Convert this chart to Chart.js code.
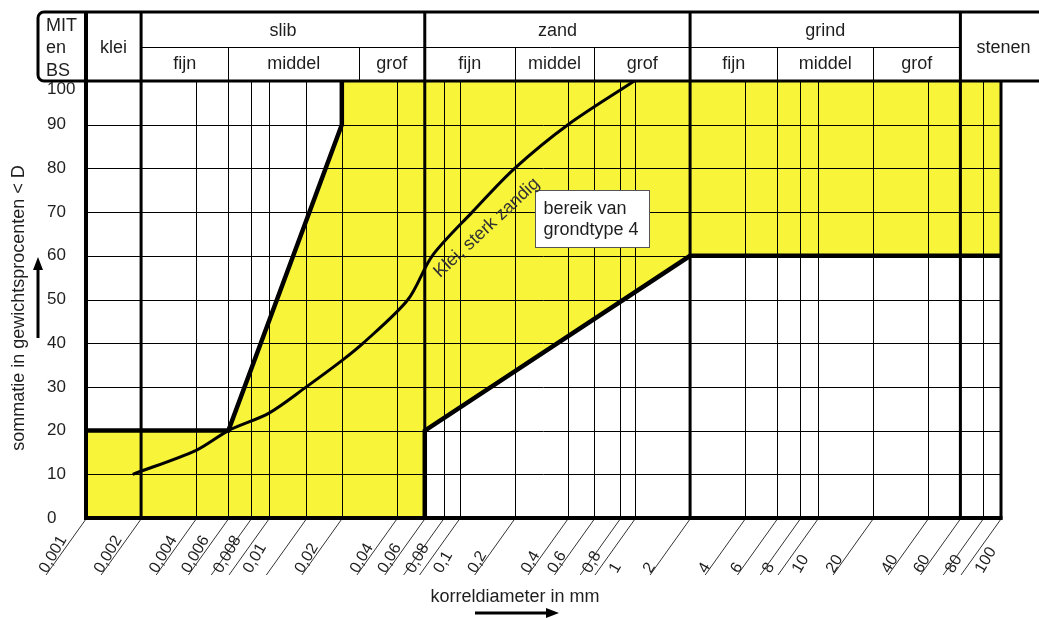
<!DOCTYPE html>
<html>
<head>
<meta charset="utf-8">
<script src="https://cdn.jsdelivr.net/npm/chart.js@4.4.1/dist/chart.umd.min.js"></script>
<style>
  html, body { margin: 0; padding: 0; background: #fff; }
</style>
</head>
<body>
<canvas id="grainChart" width="1039" height="618"></canvas>
<script>
// korreldiameter (mm): grid lines as drawn on the sheet, and the printed labels
var xGrid = [0.001, 0.002, 0.004, 0.006, 0.008, 0.01, 0.016, 0.025, 0.05, 0.071, 0.09, 0.11, 0.22, 0.43, 0.6, 0.83, 1, 2, 4, 6, 8, 10, 20, 40, 60, 80, 100];
var xLabels = ['0,001', '0,002', '0,004', '0,006', '0,008', '0,01', '', '0,02', '0,04', '0,06', '0,08', '0,1', '0,2', '0,4', '0,6', '0,8', '1', '2', '4', '6', '8', '10', '20', '40', '60', '80', '100'];
var xHeavy = [0.002, 0.071, 2, 60];
var yTicks = [0, 10, 20, 30, 40, 50, 60, 70, 80, 90, 100];

// header classes
var mainNames = ['klei', 'slib', 'zand', 'grind', 'stenen'];
var mainEdges = [0.001, 0.002, 0.071, 2, 60];
var subNames = ['fijn', 'middel', 'grof', 'fijn', 'middel', 'grof', 'fijn', 'middel', 'grof'];
var subEdges = [0.002, 0.006, 0.031, 0.071, 0.22, 0.6, 2, 6, 20, 60];

// bereik van grondtype 4 (yellow area)
var areaX = [0.001, 0.001, 0.006, 0.025, 0.025, 100, 100, 2, 0.071, 0.071];
var areaY = [0, 20, 20, 90, 100, 100, 60, 60, 20, 0];
// thick limits of that area
var upperX = [0.001, 0.006, 0.025, 0.025];
var upperY = [20, 20, 90, 100];
var lowerX = [0.071, 0.071, 2, 100];
var lowerY = [0, 20, 60, 60];

// curve "Klei, sterk zandig"
var curveX = [0.0018, 0.004, 0.006, 0.01, 0.016, 0.025, 0.0327, 0.0575, 0.078, 0.129, 0.22, 0.43, 0.99];
var curveY = [10, 15.5, 20, 24, 30, 36, 40, 50, 60, 70, 80, 90, 100];

function pts(xs, ys) {
    return xs.map(function (x, i) { return {x: x, y: ys[i]}; });
}

var ink = '#1e1e1e';
function font(size) { return size + 'px "Liberation Sans", Arial, sans-serif'; }

var sheet = {
    id: 'sheet',
    beforeDatasetsDraw: function (chart) {
        var c = chart.ctx, a = chart.chartArea;
        var X = function (v) { return chart.scales.x.getPixelForValue(v); };
        var Y = function (v) { return chart.scales.y.getPixelForValue(v); };
        var snap = function (p) { return Math.round(p) + 0.5; };
        var W = chart.width, headTop = 12, headMid = 47;
        c.save();
        c.strokeStyle = '#000';

        // thin grid
        c.lineWidth = 1;
        c.beginPath();
        yTicks.forEach(function (v) {
            if (v > 0 && v < 100) { c.moveTo(a.left, snap(Y(v))); c.lineTo(a.right, snap(Y(v))); }
        });
        xGrid.forEach(function (v) {
            var p = snap(X(v));
            c.moveTo(p, a.top); c.lineTo(p, a.bottom);
        });
        // header row divider and sub class separators
        c.moveTo(X(0.002), headMid + 0.5); c.lineTo(X(60), headMid + 0.5);
        subEdges.forEach(function (v) {
            if (mainEdges.indexOf(v) < 0) { c.moveTo(snap(X(v)), headMid); c.lineTo(snap(X(v)), a.top); }
        });
        c.stroke();

        // leader lines to the diameter labels
        c.strokeStyle = '#333';
        c.beginPath();
        xGrid.forEach(function (v) {
            var p = X(v);
            c.moveTo(p, a.bottom + 1); c.lineTo(p - 40, 575);
        });
        c.stroke();
        c.strokeStyle = '#000';

        // heavy lines
        c.lineWidth = 3;
        c.beginPath();
        xHeavy.forEach(function (v) { c.moveTo(X(v), headTop); c.lineTo(X(v), a.bottom); });
        c.moveTo(X(100), a.top); c.lineTo(X(100), a.bottom + 1.5);
        c.stroke();
        c.lineWidth = 4;
        c.beginPath();
        c.moveTo(X(0.001), headTop); c.lineTo(X(0.001), a.bottom + 2);
        c.moveTo(X(0.001) - 2, a.bottom); c.lineTo(X(100) + 1.5, a.bottom);
        c.stroke();
        // header frame with rounded left corners
        c.lineWidth = 3;
        c.beginPath();
        c.moveTo(W, headTop); c.lineTo(44, headTop);
        c.arcTo(38, headTop, 38, headTop + 6, 6);
        c.lineTo(38, a.top - 6);
        c.arcTo(38, a.top, 44, a.top, 6);
        c.lineTo(W, a.top);
        c.stroke();

        // header texts
        c.fillStyle = ink;
        c.font = font(18);
        c.textAlign = 'left';
        c.textBaseline = 'alphabetic';
        c.fillText('MIT', 46, 31);
        c.fillText('en', 46, 53);
        c.fillText('BS', 46, 76);
        c.textAlign = 'center';
        mainNames.forEach(function (name, i) {
            var l = X(mainEdges[i]);
            var r = i + 1 < mainEdges.length ? X(mainEdges[i + 1]) : l + 86;
            var hasSub = subEdges.indexOf(mainEdges[i]) >= 0 && i + 1 < mainEdges.length && subEdges.indexOf(mainEdges[i + 1]) >= 0;
            c.fillText(name, (l + r) / 2, hasSub ? 36 : 53);
        });
        subNames.forEach(function (name, i) {
            c.fillText(name, (X(subEdges[i]) + X(subEdges[i + 1])) / 2, 69);
        });

        // percentage labels
        c.font = font(17);
        c.textAlign = 'left';
        c.textBaseline = 'middle';
        yTicks.forEach(function (v) {
            c.fillText(String(v), 47, Math.max(Y(v), 89));
        });

        // diameter labels, slanted
        c.font = font(16);
        c.textBaseline = 'alphabetic';
        xGrid.forEach(function (v, i) {
            var lab = xLabels[i];
            if (!lab) return;
            var n = 0;
            if (/^(0,0*)?8/.test(lab)) n = 9;
            if (i > 0 && /^(0,0*)?10*$/.test(lab)) n = 21;
            c.save();
            c.translate(X(v) - 39 + n, 574);
            c.rotate(-60 * Math.PI / 180);
            c.fillText(lab, 0, 0);
            c.restore();
        });

        // axis titles with arrows
        c.font = font(18);
        c.textAlign = 'center';
        c.textBaseline = 'middle';
        c.fillText('korreldiameter in mm', 515, 597);
        c.save();
        c.translate(19, 308);
        c.rotate(-Math.PI / 2);
        c.fillText('sommatie in gewichtsprocenten < D', 0, 0);
        c.restore();

        c.fillStyle = '#000';
        c.lineWidth = 3;
        c.beginPath();
        c.moveTo(475, 613); c.lineTo(548, 613);
        c.moveTo(38, 338); c.lineTo(38, 268);
        c.stroke();
        c.beginPath();
        c.moveTo(546, 608); c.lineTo(559, 613); c.lineTo(546, 618); c.closePath();
        c.moveTo(33, 270); c.lineTo(38, 257); c.lineTo(43, 270); c.closePath();
        c.fill();
        c.restore();
    },
    afterDatasetsDraw: function (chart) {
        var c = chart.ctx;
        var X = function (v) { return chart.scales.x.getPixelForValue(v); };
        var Y = function (v) { return chart.scales.y.getPixelForValue(v); };
        c.save();
        // note box
        var bx = Math.round(X(0.284)) + 0.5, by = Math.round(Y(75)) + 0.5;
        c.fillStyle = '#fff';
        c.fillRect(bx, by, 114, 57);
        c.strokeStyle = '#555';
        c.lineWidth = 1;
        c.strokeRect(bx, by, 114, 57);
        c.fillStyle = ink;
        c.font = font(18);
        c.textAlign = 'left';
        c.textBaseline = 'alphabetic';
        c.fillText('bereik van', bx + 8, by + 23);
        c.fillText('grondtype 4', bx + 8, by + 44);
        // curve name along the curve
        c.translate(X(0.155), Y(66.4));
        c.rotate(-43 * Math.PI / 180);
        c.textAlign = 'center';
        c.textBaseline = 'middle';
        c.fillStyle = '#333';
        c.fillText('Klei, sterk zandig', 0, 0);
        c.restore();
    }
};

var ctx = document.getElementById('grainChart').getContext('2d');
var grainChart = new Chart(ctx, {
    type: 'line',
    data: {
        datasets: [{
                data: pts(curveX, curveY),
                borderColor: '#000',
                borderWidth: 3,
                tension: 0.3,
                pointRadius: 0,
                fill: false
            }, {
                data: pts(upperX, upperY),
                borderColor: '#000',
                borderWidth: 4.5,
                tension: 0,
                pointRadius: 0,
                fill: false,
                clip: false
            }, {
                data: pts(lowerX, lowerY),
                borderColor: '#000',
                borderWidth: 4.5,
                tension: 0,
                pointRadius: 0,
                fill: false,
                clip: false
            }, {
                data: pts(areaX, areaY),
                borderColor: 'rgba(0,0,0,0)',
                borderWidth: 1,
                backgroundColor: '#f7f43a',
                tension: 0,
                pointRadius: 0,
                fill: 'shape'
            }]
    },
    options: {
        responsive: false,
        animation: false,
        events: [],
        layout: {padding: {left: 86, right: 38, top: 81, bottom: 100}},
        scales: {
            x: {type: 'logarithmic', min: 0.001, max: 100, display: false},
            y: {type: 'linear', min: 0, max: 100, display: false}
        },
        plugins: {
            legend: {display: false},
            tooltip: {enabled: false},
            filler: {drawTime: 'beforeDraw'}
        }
    },
    plugins: [sheet]
});
</script>
</body>
</html>
